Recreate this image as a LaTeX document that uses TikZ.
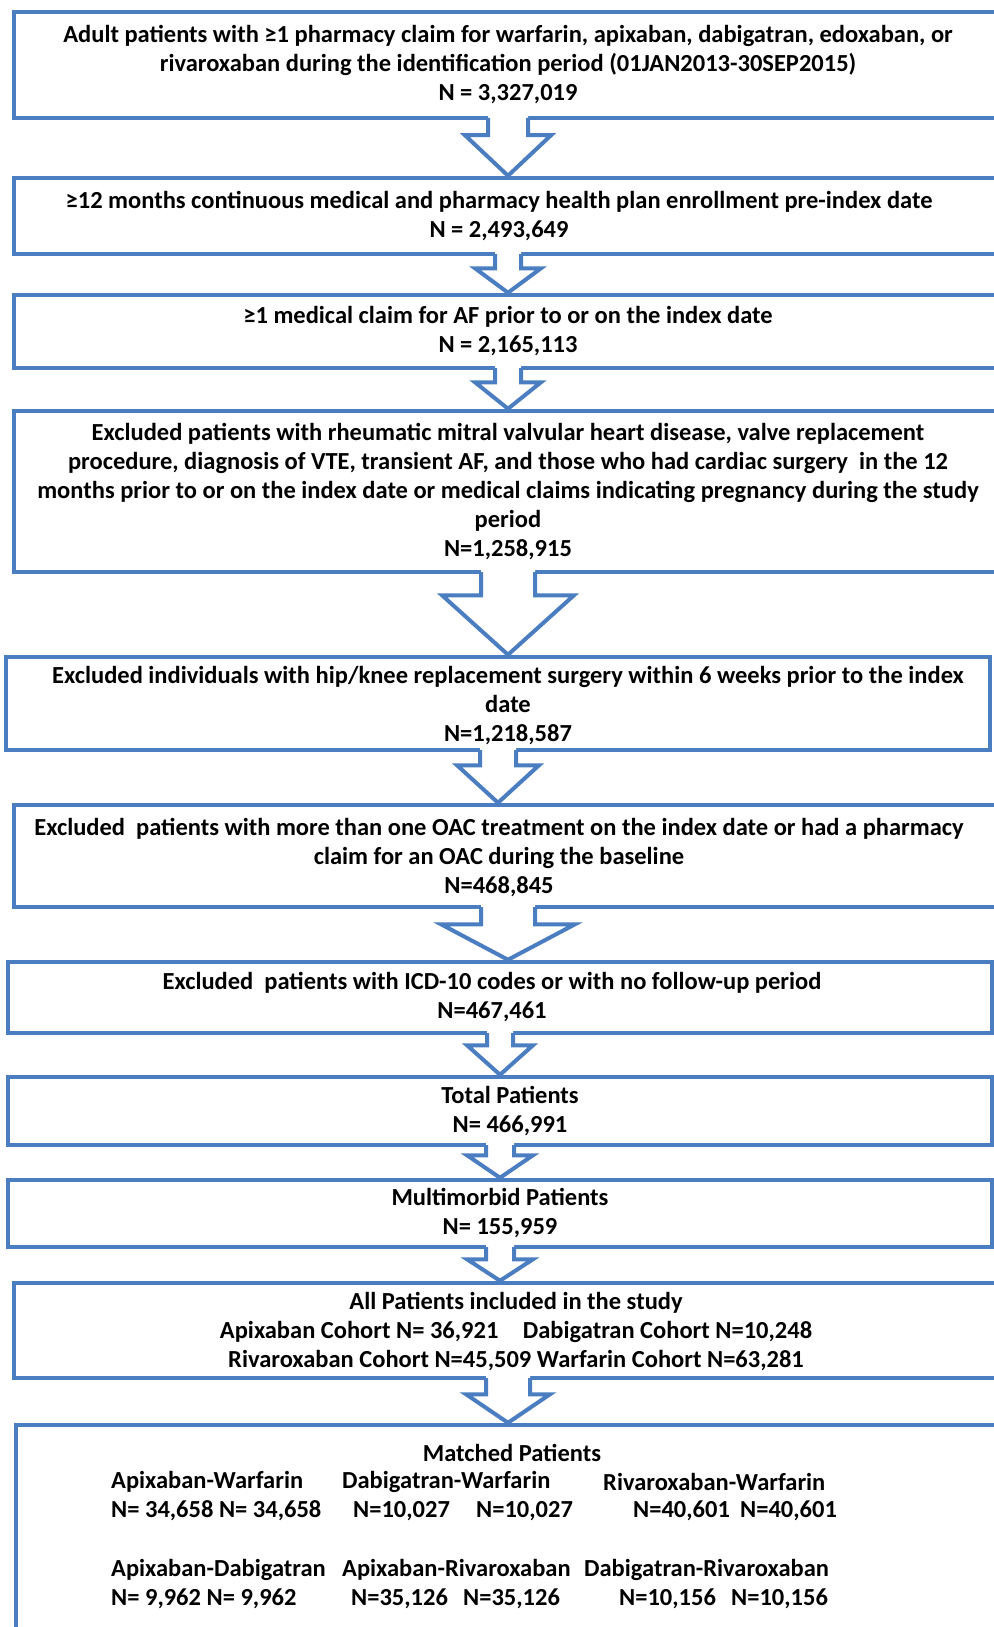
\documentclass[tikz,border=0pt]{standalone}
\usepackage{fontspec}
\setmainfont{Carlito}
\usetikzlibrary{calc}

\definecolor{flowblue}{RGB}{74,126,193}

\tikzset{
  box/.style={draw=flowblue, line width=4.5pt, fill=white, inner sep=0pt},
  boxtext/.style={inner sep=0pt, align=center, font=\bfseries\fontsize{24.5}{29}\selectfont},
  arrowline/.style={draw=flowblue, line width=4pt, line join=miter},
}

% hollow block arrow: upper box, lower box, shaft half width, head half width, shaft length
\newcommand{\hollowarrow}[5]{%
  \fill[white] ($(#1.south)+(-#3,-6)$) -- ($(#1.south)+(-#3,#5)$) -- ($(#1.south)+(-#4,#5)$)
    -- (#1.south |- #2.north) -- ($(#1.south)+(#4,#5)$) -- ($(#1.south)+(#3,#5)$)
    -- ($(#1.south)+(#3,-6)$) -- cycle;
  \draw[arrowline] ($(#1.south)+(-#3,-2.25)$) -- ($(#1.south)+(-#3,#5)$) -- ($(#1.south)+(-#4,#5)$)
    -- (#1.south |- #2.north) -- ($(#1.south)+(#4,#5)$) -- ($(#1.south)+(#3,#5)$)
    -- ($(#1.south)+(#3,-2.25)$);
}

\begin{document}
\begin{tikzpicture}[x=1pt, y=-1pt]
  \useasboundingbox (0,0) rectangle (993,1627);

  % boxes
  \node[box, minimum width=988pt, minimum height=106pt] (b1) at (508,65) {};
  \node[box, minimum width=988pt, minimum height=76pt] (b2) at (508,216) {};
  \node[box, minimum width=988pt, minimum height=73pt] (b3) at (508,331.5) {};
  \node[box, minimum width=988pt, minimum height=161pt] (b4) at (508,491.5) {};
  \node[box, minimum width=984pt, minimum height=93pt] (b5) at (498,703.5) {};
  \node[box, minimum width=988pt, minimum height=102pt] (b6) at (508,856) {};
  \node[box, minimum width=984pt, minimum height=71pt] (b7) at (500,997.5) {};
  \node[box, minimum width=984pt, minimum height=68pt] (b8) at (500,1111) {};
  \node[box, minimum width=984pt, minimum height=67pt] (b9) at (500,1213.5) {};
  \node[box, minimum width=988pt, minimum height=95pt] (b10) at (508,1330.5) {};
  \node[box, minimum width=986pt, minimum height=255pt] (b11) at (509,1552.5) {};

  % box texts
  \node[boxtext] (t1) at (b1.center)
    {Adult patients with ≥1 pharmacy claim for warfarin, apixaban, dabigatran, edoxaban, or\\
     rivaroxaban during the identification period (01JAN2013-30SEP2015)\\ N = 3,327,019};
  \node[boxtext, xshift=-9pt] (t2) at (b2.center)
    {≥12 months continuous medical and pharmacy health plan enrollment pre-index date\\ N = 2,493,649};
  \node[boxtext] (t3) at (b3.center)
    {≥1 medical claim for AF prior to or on the index date\\ N = 2,165,113};
  \node[boxtext] (t4) at (b4.center)
    {Excluded patients with rheumatic mitral valvular heart disease, valve replacement\\
     procedure, diagnosis of VTE, transient AF, and those who had cardiac surgery\ \ in the 12\\
     months prior to or on the index date or medical claims indicating pregnancy during the study\\
     period\\ N=1,258,915};
  \node[boxtext, xshift=10pt, yshift=-2pt] (t5) at (b5.center)
    {Excluded individuals with hip/knee replacement surgery within 6 weeks prior to the index\\
     date\\ N=1,218,587};
  \node[boxtext, xshift=-9pt, yshift=-2pt] (t6) at (b6.center)
    {Excluded\ \ patients with more than one OAC treatment on the index date or had a pharmacy\\
     claim for an OAC during the baseline\\ N=468,845};
  \node[boxtext, xshift=-8pt] (t7) at (b7.center)
    {Excluded\ \ patients with ICD-10 codes or with no follow-up period\\ N=467,461};
  \node[boxtext, xshift=10pt] (t8) at (b8.center)
    {Total Patients\\ N= 466,991};
  \node[boxtext] (t9) at (b9.center)
    {Multimorbid Patients\\ N= 155,959};
  \node[boxtext, xshift=8pt, yshift=-1pt] (t10) at (b10.center)
    {All Patients included in the study\\
     Apixaban Cohort N= 36,921\quad Dabigatran Cohort N=10,248\\
     Rivaroxaban Cohort N=45,509 Warfarin Cohort N=63,281};

  % matched pairs
  \node[boxtext] (matched) at (512,1453) {Matched Patients};
  \node[boxtext, anchor=west] (aw) at (111,1482) {Apixaban-Warfarin};
  \node[boxtext, anchor=west] (dw) at (342,1482) {Dabigatran-Warfarin};
  \node[boxtext, anchor=west] (rw) at (603,1482) {Rivaroxaban-Warfarin};
  \node[boxtext, anchor=west] (awn) at (111,1511) {N= 34,658 N= 34,658};
  \node[boxtext, anchor=west] (dwn1) at (353,1511) {N=10,027};
  \node[boxtext, anchor=west] (dwn2) at (476,1511) {N=10,027};
  \node[boxtext, anchor=west] (rwn1) at (633,1511) {N=40,601};
  \node[boxtext, anchor=west] (rwn2) at (740,1511) {N=40,601};
  \node[boxtext, anchor=west] (ad) at (111,1570) {Apixaban-Dabigatran};
  \node[boxtext, anchor=west] (ar) at (342,1570) {Apixaban-Rivaroxaban};
  \node[boxtext, anchor=west] (dr) at (584,1570) {Dabigatran-Rivaroxaban};
  \node[boxtext, anchor=west] (adn) at (111,1599) {N= 9,962 N= 9,962};
  \node[boxtext, anchor=west] (arn1) at (351,1599) {N=35,126};
  \node[boxtext, anchor=west] (arn2) at (463,1599) {N=35,126};
  \node[boxtext, anchor=west] (drn1) at (619,1599) {N=10,156};
  \node[boxtext, anchor=west] (drn2) at (731,1599) {N=10,156};

  % arrows
  \hollowarrow{b1}{b2}{20}{43}{15}
  \hollowarrow{b2}{b3}{13}{33}{12}
  \hollowarrow{b3}{b4}{13}{33}{12}
  \hollowarrow{b4}{b5}{27}{66}{21}
  \hollowarrow{b5}{b6}{18}{41}{13}
  \hollowarrow{b6}{b7}{27}{67}{15}
  \hollowarrow{b7}{b8}{13}{33}{10}
  \hollowarrow{b8}{b9}{14}{33}{8}
  \hollowarrow{b9}{b10}{14}{33}{10}
  \hollowarrow{b10}{b11}{22}{42}{14}
\end{tikzpicture}
\end{document}
